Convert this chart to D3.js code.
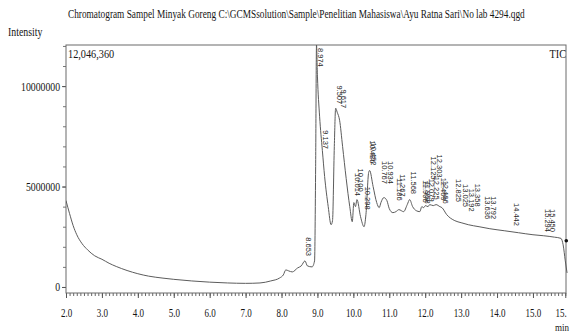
<!DOCTYPE html>
<html>
<head>
<meta charset="utf-8">
<script src="https://cdn.jsdelivr.net/npm/d3@7"></script>
<style>
  html, body { margin: 0; padding: 0; background: #fff; }
  svg { display: block; }
  text { font-family: "Liberation Serif", "Times New Roman", serif; fill: #151515; }
  .peak-label { font-family: "Liberation Sans", Arial, sans-serif; font-size: 7.5px; fill: #262626; }
</style>
</head>
<body>
<svg id="chart" width="571" height="333"></svg>
<script>
// retention time (min) and TIC intensity
const retentionTime = [
  2.00, 2.10, 2.20, 2.30, 2.45, 2.60, 2.80, 3.00, 3.20, 3.40, 3.70, 4.00, 4.30, 4.70, 5.00,
  5.50, 6.00, 6.50, 7.00, 7.40, 7.70, 7.95, 8.05, 8.12, 8.20, 8.30, 8.45, 8.55, 8.653, 8.72,
  8.85, 8.92, 8.95, 8.974, 9.00, 9.06, 9.137, 9.20, 9.30, 9.38, 9.42, 9.47, 9.507, 9.55, 9.617,
  9.70, 9.80, 9.90, 9.97, 10.014, 10.06, 10.10, 10.20, 10.298, 10.35, 10.426, 10.452, 10.55, 10.65, 10.72,
  10.767, 10.85, 10.934, 11.00, 11.10, 11.186, 11.267, 11.40, 11.50, 11.568, 11.65, 11.75, 11.85, 11.906, 11.958,
  12.006, 12.079, 12.125, 12.225, 12.303, 12.409, 12.466, 12.60, 12.825, 13.00, 13.20, 13.50, 13.80, 14.20, 14.60,
  15.00, 15.30, 15.60, 15.78, 15.84, 15.90, 15.95
];
const intensity = [
  4300000, 3650000, 3050000, 2600000, 2150000, 1850000, 1550000, 1380000, 1180000, 1020000, 820000, 660000, 540000, 440000, 380000,
  300000, 240000, 200000, 180000, 200000, 300000, 450000, 600000, 850000, 800000, 750000, 950000, 1050000, 1300000, 1050000,
  1000000, 1300000, 6000000, 12046360, 10500000, 8500000, 6800000, 5500000, 4000000, 3100000, 3300000, 7000000, 8900000, 8700000, 8300000,
  7000000, 5400000, 4000000, 3250000, 4200000, 4000000, 4350000, 3500000, 3000000, 3600000, 5700000, 5800000, 5000000, 4200000, 3950000,
  4200000, 4450000, 4300000, 3900000, 3700000, 3750000, 3850000, 3750000, 4100000, 4350000, 4000000, 3800000, 3750000, 4000000, 3950000,
  4050000, 4000000, 4100000, 4050000, 4100000, 4000000, 3950000, 3600000, 3300000, 3200000, 3100000, 3000000, 2900000, 2800000, 2700000,
  2600000, 2550000, 2480000, 2420000, 2100000, 1300000, 700000
];

// labelled peaks: retention time and the height where each label ends
const peakTimes = [
  8.653, 8.974, 9.137, 9.507, 9.617, 10.014, 10.100, 10.298, 10.426, 10.452,
  10.767, 10.934, 11.186, 11.267, 11.568, 11.906, 11.958, 12.079, 12.125, 12.225,
  12.303, 12.409, 12.466, 12.825, 13.025, 13.192, 13.358, 13.636, 13.792, 14.442,
  15.294, 15.450
];
const peakTops = [
  1490000, 12046360, 6820000, 9050000, 8850000, 4480000, 4700000, 3800000, 6100000, 6000000,
  5080000, 5080000, 4250000, 4450000, 4580000, 4150000, 4100000, 4200000, 5300000, 4300000,
  5400000, 4250000, 4100000, 4180000, 3930000, 3700000, 3950000, 3330000, 3330000, 2990000,
  2690000, 2690000
];

const xTickValues = [2, 3, 4, 5, 6, 7, 8, 9, 10, 11, 12, 13, 14, 15, 15.9];
const xTickLabels = ["2.0", "3.0", "4.0", "5.0", "6.0", "7.0", "8.0", "9.0", "10.0", "11.0", "12.0", "13.0", "14.0", "15.0", "15."];
const yTickValues = [0, 5000000, 10000000];
const yTickLabels = ["0", "5000000", "10000000"];
const maxIntensity = 12046360;
const endMarker = [15.9, 2300000];

const titleText = "Chromatogram Sampel  Minyak Goreng C:\\GCMSsolution\\Sample\\Penelitian Mahasiswa\\Ayu Ratna Sari\\No lab 4294.qgd";

const svg = d3.select('#chart');
const frame = { left: 66, top: 45, right: 566, bottom: 293 };

const x = d3.scaleLinear().domain([2.0, 15.92]).range([frame.left, frame.right]);
const y = d3.scaleLinear().domain([-300000, maxIntensity]).range([frame.bottom, frame.top]);

svg.append('defs').append('clipPath').attr('id', 'plot-clip')
  .append('rect')
  .attr('x', frame.left).attr('y', frame.top)
  .attr('width', frame.right - frame.left + 2).attr('height', frame.bottom - frame.top);

// -- axes --
const minorX = d3.range(20, 160).map(i => i / 10);
svg.append('g')
  .attr('transform', `translate(0,${frame.bottom})`)
  .call(d3.axisBottom(x).tickValues(minorX).tickSize(3).tickFormat(''))
  .call(g => g.select('.domain').remove())
  .call(g => g.selectAll('line').attr('stroke', '#666'));

const xAxis = svg.append('g')
  .attr('class', 'x-axis')
  .attr('transform', `translate(0,${frame.bottom})`)
  .call(d3.axisBottom(x).tickValues(xTickValues).tickSize(5).tickPadding(10)
    .tickFormat((d, i) => xTickLabels[i]))
  .call(g => g.select('.domain').remove());
xAxis.selectAll('line').attr('stroke', '#555');
xAxis.selectAll('text').attr('font-size', 12.5).attr('fill', '#151515')
  .attr('font-family', '"Liberation Serif", serif');
// last label sits on the right edge of the print
xAxis.selectAll('.tick').filter(d => d === 15.9).select('text')
  .attr('text-anchor', 'end').attr('x', 1);

const minorY = d3.range(0, 13).map(i => i * 1000000).filter(v => v <= maxIntensity);
svg.append('g')
  .attr('transform', `translate(${frame.left},0)`)
  .call(d3.axisLeft(y).tickValues(minorY).tickSize(3).tickFormat(''))
  .call(g => g.select('.domain').remove())
  .call(g => g.selectAll('line').attr('stroke', '#777'));

const yAxis = svg.append('g')
  .attr('class', 'y-axis')
  .attr('transform', `translate(${frame.left},0)`)
  .call(d3.axisLeft(y).tickValues(yTickValues).tickSize(4).tickPadding(2)
    .tickFormat((d, i) => yTickLabels[i]))
  .call(g => g.select('.domain').remove());
yAxis.selectAll('line').attr('stroke', '#555');
yAxis.selectAll('text').attr('font-size', 12.5).attr('fill', '#151515')
  .attr('font-family', '"Liberation Serif", serif');

// frame
svg.append('rect')
  .attr('x', frame.left).attr('y', frame.top)
  .attr('width', frame.right - frame.left).attr('height', frame.bottom - frame.top)
  .attr('fill', 'none').attr('stroke', '#6a6a6a').attr('stroke-width', 1);

// -- trace --
const pts = retentionTime.map((t, i) => [t, intensity[i]]);
const line = d3.line()
  .x(d => x(d[0]))
  .y(d => y(d[1]))
  .curve(d3.curveMonotoneX);

svg.append('path')
  .datum(pts)
  .attr('clip-path', 'url(#plot-clip)')
  .attr('d', line)
  .attr('fill', 'none')
  .attr('stroke', '#5c5c5c')
  .attr('stroke-width', 1);

svg.append('circle')
  .attr('cx', x(endMarker[0]) + 1).attr('cy', y(endMarker[1]))
  .attr('r', 1.8).attr('fill', '#111');

// -- peak labels, rotated like the GCMSsolution print --
const peakG = svg.append('g').attr('class', 'peaks');
peakTimes.forEach((t, i) => {
  const lbl = t.toFixed(3);
  const px = x(t) + 1;
  const top = peakTops[i];
  const el = peakG.append('text')
    .attr('class', 'peak-label')
    .text(lbl);
  if (top >= maxIntensity) {
    el.attr('text-anchor', 'start')
      .attr('transform', `translate(${px},${frame.top + 3}) rotate(90)`);
  } else {
    el.attr('text-anchor', 'end')
      .attr('transform', `translate(${px},${y(top) - 1}) rotate(90)`);
  }
});

// -- header texts --
const title = svg.append('text')
  .attr('class', 'title')
  .attr('font-size', 12)
  .text(titleText);
const tw = title.node().getComputedTextLength();
title.attr('transform', `translate(68,18) scale(${457 / tw},1)`);

svg.append('text').attr('class', 'cond')
  .attr('x', 8).attr('y', 36).attr('font-size', 12).text('Intensity');

svg.append('text').attr('class', 'cond')
  .attr('x', 68).attr('y', 58).attr('font-size', 12.5).text('12,046,360');

svg.append('text').attr('class', 'cond')
  .attr('x', 566).attr('y', 58).attr('text-anchor', 'end').attr('font-size', 12.5).text('TIC');

svg.append('text').attr('class', 'cond')
  .attr('x', 569).attr('y', 331).attr('text-anchor', 'end').attr('font-size', 11).text('min');

// scanned print looks horizontally squeezed: condense the serif texts
function condense(sel, k) {
  sel.each(function () {
    const w = this.getComputedTextLength();
    if (w > 0) {
      d3.select(this).attr('textLength', w * k).attr('lengthAdjust', 'spacingAndGlyphs');
    }
  });
}
condense(svg.selectAll('text.cond'), 0.82);
condense(xAxis.selectAll('text'), 0.72);
condense(yAxis.selectAll('text'), 0.78);
</script>
</body>
</html>
